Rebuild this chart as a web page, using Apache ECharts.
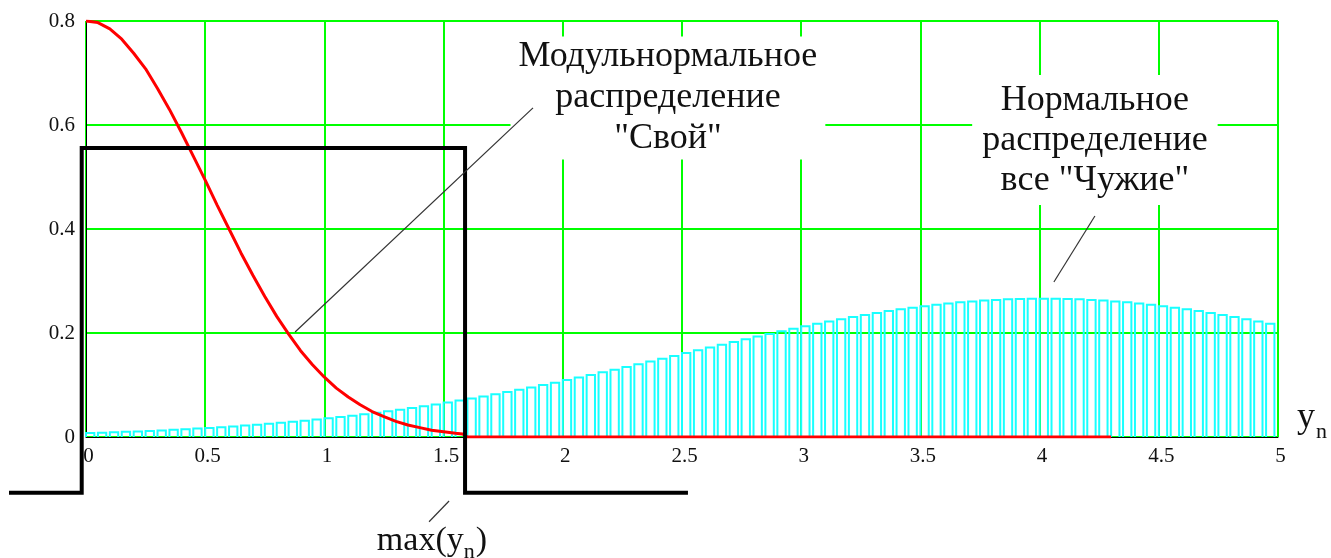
<!DOCTYPE html>
<html>
<head>
<meta charset="utf-8">
<script src="https://cdn.jsdelivr.net/npm/echarts@6/dist/echarts.min.js"></script>
<style>
  html, body { margin: 0; padding: 0; background: #ffffff; }
  #chart { width: 1331px; height: 558px; }
</style>
</head>
<body>
<div id="chart"></div>
<script>
// Modulus-normal density ("Свой"), sampled points
const ownX = [0, 0.05, 0.1, 0.15, 0.2, 0.25, 0.3, 0.35, 0.4, 0.45, 0.5, 0.55, 0.6, 0.65, 0.7, 0.75,
  0.8, 0.85, 0.9, 0.95, 1.0, 1.05, 1.1, 1.15, 1.2, 1.25, 1.3, 1.35, 1.4, 1.45, 1.5, 1.55, 1.58, 1.6, 4.3];
const ownY = [0.800, 0.797, 0.785, 0.765, 0.738, 0.708, 0.670, 0.630, 0.586, 0.540, 0.494, 0.446, 0.400,
  0.354, 0.311, 0.270, 0.232, 0.198, 0.166, 0.139, 0.115, 0.094, 0.077, 0.062, 0.049, 0.039, 0.030,
  0.023, 0.018, 0.013, 0.010, 0.007, 0.006, 0, 0];

// Normal density of all "Чужие", one bar every 0.05 starting at 0
const alienStart = 0;
const alienStep = 0.05;
const alienY = [
  0.0076, 0.0083, 0.0091, 0.0099, 0.0107, 0.0117, 0.0127, 0.0138, 0.0149, 0.0162,
  0.0175, 0.0189, 0.0204, 0.0220, 0.0237, 0.0254, 0.0273, 0.0293, 0.0314, 0.0337,
  0.0360, 0.0385, 0.0410, 0.0438, 0.0466, 0.0496, 0.0526, 0.0559, 0.0592, 0.0627,
  0.0663, 0.0701, 0.0739, 0.0780, 0.0821, 0.0864, 0.0907, 0.0952, 0.0998, 0.1045,
  0.1094, 0.1143, 0.1192, 0.1243, 0.1295, 0.1347, 0.1399, 0.1453, 0.1506, 0.1560,
  0.1613, 0.1667, 0.1721, 0.1774, 0.1827, 0.1880, 0.1931, 0.1983, 0.2033, 0.2082,
  0.2130, 0.2177, 0.2222, 0.2265, 0.2307, 0.2347, 0.2386, 0.2422, 0.2455, 0.2487,
  0.2516, 0.2543, 0.2567, 0.2589, 0.2607, 0.2623, 0.2636, 0.2647, 0.2654, 0.2658,
  0.2660, 0.2658, 0.2654, 0.2647, 0.2636, 0.2623, 0.2607, 0.2589, 0.2567, 0.2543,
  0.2516, 0.2487, 0.2455, 0.2422, 0.2386, 0.2347, 0.2307, 0.2265, 0.2222, 0.2177
];

// Rectangular window up to max(y_n)
const windowX = [-0.323, -0.018, -0.018, 1.59, 1.59, 2.525];
const windowY = [-0.107, -0.107, 0.556, 0.556, -0.107, -0.107];

// Annotation texts
const ownLabel = ['Модульнормальное', 'распределение', '"Свой"'];
const alienLabel = ['Нормальное', 'распределение', 'все "Чужие"'];

const SERIF = '"Liberation Serif", "DejaVu Serif", serif';
const barSpan = 0.035;

const chart = echarts.init(document.getElementById('chart'), null, { renderer: 'canvas' });

const ownData = ownX.map((x, i) => [x, ownY[i]]);
const alienData = alienY.map((v, i) => [alienStart + i * alienStep, v]);
const windowData = windowX.map((x, i) => [x, windowY[i]]);

chart.setOption({
  animation: false,
  backgroundColor: '#ffffff',
  grid: {
    left: 86, right: 53, top: 21, bottom: 121,
    show: true, borderColor: '#000000', borderWidth: 1, backgroundColor: 'transparent'
  },
  xAxis: {
    type: 'value', min: 0, max: 5, interval: 0.5,
    axisLine: { show: true, onZero: false, lineStyle: { color: '#000000', width: 1 } },
    axisTick: { show: false },
    splitLine: { show: true, lineStyle: { color: '#00ff00', width: 2 } },
    axisLabel: { fontFamily: SERIF, fontSize: 21, color: '#111111', margin: 9, showMinLabel: true, showMaxLabel: true,
      padding: [0, 0, 0, 5] }
  },
  yAxis: {
    type: 'value', min: 0, max: 0.8, interval: 0.2,
    axisLine: { show: true, onZero: false, lineStyle: { color: '#000000', width: 1 } },
    axisTick: { show: false },
    splitLine: { show: true, lineStyle: { color: '#00ff00', width: 2 } },
    axisLabel: { fontFamily: SERIF, fontSize: 21, color: '#111111', margin: 11 }
  },
  series: [
    {
      name: 'Чужие',
      type: 'custom',
      z: 3,
      data: alienData,
      renderItem: function (params, api) {
        const x = api.value(0);
        const v = api.value(1);
        const top = api.coord([x, v]);
        const base = api.coord([x + barSpan, 0]);
        return {
          type: 'polyline',
          shape: { points: [[top[0], base[1]], [top[0], top[1]], [base[0], top[1]], [base[0], base[1]]] },
          style: { stroke: '#19ffff', lineWidth: 2, fill: null }
        };
      }
    },
    {
      name: 'Свой',
      type: 'line',
      z: 5,
      data: ownData,
      symbol: 'none',
      lineStyle: { color: '#ff0000', width: 3 }
    },
    {
      name: 'max',
      type: 'custom',
      z: 6,
      clip: false,
      data: windowData,
      renderItem: function (params, api) {
        if (params.dataIndex !== 0) return null;
        const pts = windowData.map(p => api.coord(p));
        return {
          type: 'polyline',
          shape: { points: pts },
          style: { stroke: '#000000', lineWidth: 4, fill: null, lineJoin: 'miter' }
        };
      }
    }
  ]
});

// Annotations placed in data coordinates
function px(pt) { return chart.convertToPixel({ gridIndex: 0 }, pt); }

const measureCtx = document.createElement('canvas').getContext('2d');
function textWidth(str, size) {
  measureCtx.font = size + 'px ' + SERIF;
  return measureCtx.measureText(str).width;
}

const ownAt = px([2.441, 0.652]);
const alienAt = px([4.232, 0.571]);
const yAt = px([5.0, 0.0]);
const maxAt = px([1.22, -0.2]);

function leader(a, b) {
  const p = px(a), q = px(b);
  return { type: 'line', z: 60, shape: { x1: p[0], y1: p[1], x2: q[0], y2: q[1] },
    style: { stroke: '#333333', lineWidth: 1.2 } };
}

function plain(str, x, y, size, extra) {
  return Object.assign({
    type: 'text', z: 50, x: x, y: y,
    style: { text: str, fontFamily: SERIF, fontSize: size, fill: '#111111', align: 'left', verticalAlign: 'middle' }
  }, extra || {});
}

const MAIN = 34, SUB = 22;
const yMainX = yAt[0] + 19;
const maxMainW = textWidth('max(y', MAIN);
const subW = textWidth('n', SUB);

chart.setOption({
  graphic: [
    {
      type: 'text', z: 50, x: ownAt[0], y: ownAt[1],
      style: {
        text: ownLabel.join('\n'), fontFamily: SERIF, fontSize: 36, lineHeight: 41,
        fill: '#111111', align: 'center', verticalAlign: 'middle',
        backgroundColor: '#ffffff', padding: [0, 8, 0, 8]
      }
    },
    {
      type: 'text', z: 50, x: alienAt[0], y: alienAt[1],
      style: {
        text: alienLabel.join('\n'), fontFamily: SERIF, fontSize: 36, lineHeight: 40,
        fill: '#111111', align: 'center', verticalAlign: 'middle',
        backgroundColor: '#ffffff', padding: [5, 10, 5, 10]
      }
    },
    // axis name y_n
    plain('y', yMainX, yAt[1] - 19, 36),
    plain('n', yMainX + 19, yAt[1] - 4.5, SUB),
    // max(y_n)
    plain('max(y', maxAt[0], maxAt[1], MAIN),
    plain('n', maxAt[0] + maxMainW, maxAt[1] + 11, SUB),
    plain(')', maxAt[0] + maxMainW + subW + 1, maxAt[1], MAIN),
    leader([0.877, 0.202], [1.875, 0.633]),
    leader([4.06, 0.298], [4.232, 0.425]),
    leader([1.439, -0.163], [1.523, -0.123])
  ]
});
</script>
</body>
</html>
